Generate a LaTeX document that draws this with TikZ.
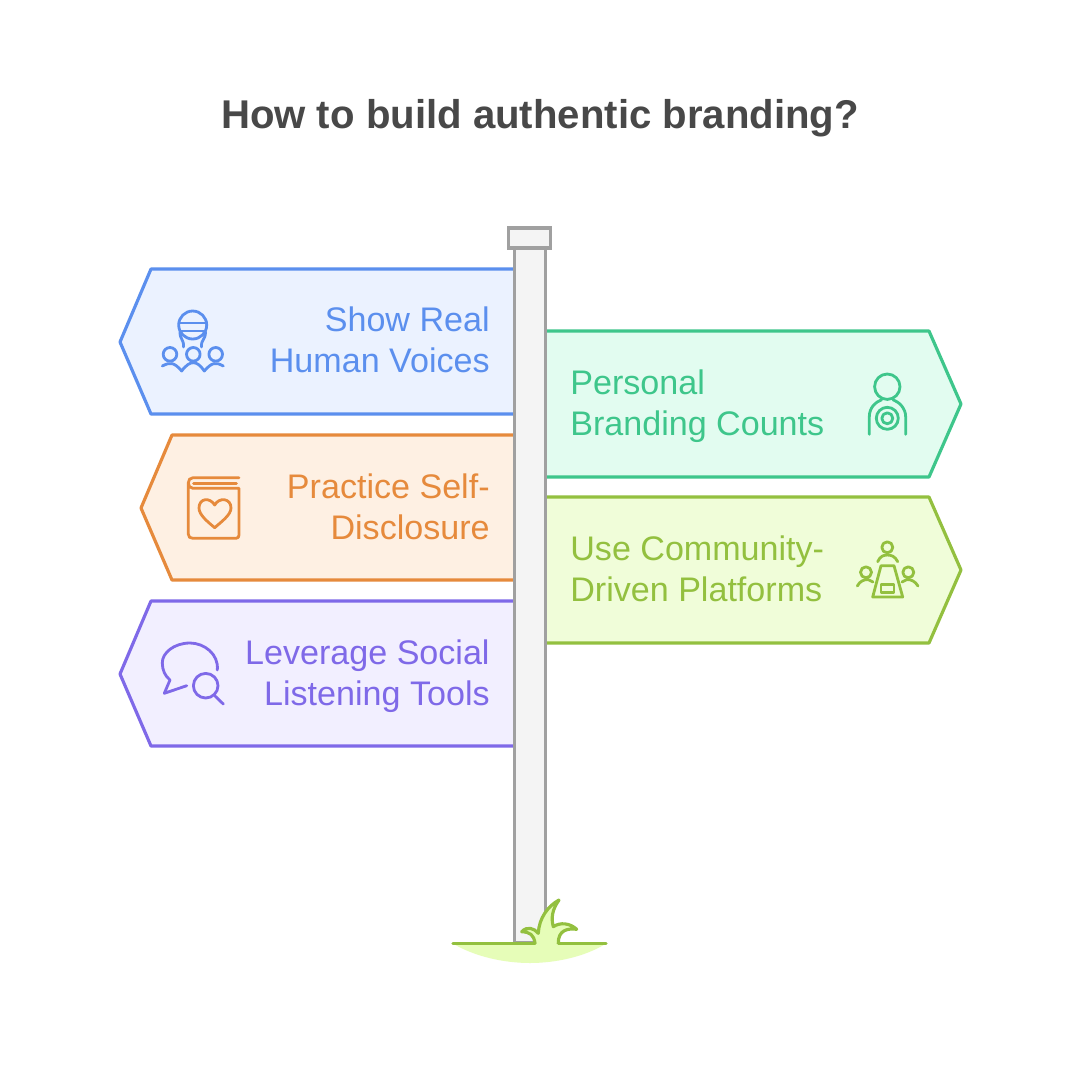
\documentclass[tikz,border=0pt]{standalone}
\usepackage{fontspec}
\setmainfont{Liberation Sans}
\definecolor{blueline}{HTML}{5B8FEE}
\definecolor{bluefill}{HTML}{EBF2FF}
\definecolor{orangeline}{HTML}{E68A3C}
\definecolor{orangefill}{HTML}{FEF0E3}
\definecolor{purpleline}{HTML}{7F69E8}
\definecolor{purplefill}{HTML}{F2EFFF}
\definecolor{greenline}{HTML}{3EC68B}
\definecolor{greenfill}{HTML}{E2FCF0}
\definecolor{limeline}{HTML}{93C03F}
\definecolor{limefill}{HTML}{F0FDD9}
\definecolor{postline}{HTML}{A0A0A0}
\definecolor{postfill}{HTML}{F4F4F4}
\definecolor{grassfill}{HTML}{E6FDB8}
\definecolor{titlegray}{HTML}{484848}
\tikzset{
signtext/.style={inner sep=0pt,font=\fontsize{19.4}{23.3}\selectfont},
signline/.style={line width=1.8pt,line join=round},
iconline/.style={line width=1.6pt,line cap=round,line join=round}
}
\begin{document}
\begin{tikzpicture}
[x=0.02cm,y=-0.02cm]
\useasboundingbox[fill=white] (0,0) rectangle (1080,1080);
\node[inner sep=0pt,text=titlegray,font=\fontsize{22.85}{27}\selectfont\bfseries] (title) at (540,118) {How to build authentic branding?};
\foreach \tone/\x/\y in {blue/120/342,orange/141/508,purple/120/674}
\draw[signline,draw=\tone line,fill=\tone fill] (514,\y-73) -- (\x+31,\y-73) -- (\x,\y) -- (\x+31,\y+72) -- (514,\y+72);
\foreach \tone/\y in {green/404,lime/570}
\draw[signline,draw=\tone line,fill=\tone fill] (546,\y-73) -- (929,\y-73) -- (961,\y) -- (929,\y+73) -- (546,\y+73);
\node[signtext,anchor=east,align=right,text=blueline] (s1) at (490,340) {Show Real\\Human Voices};
\node[signtext,anchor=east,align=right,text=orangeline] (s2) at (490,507) {Practice Self-\\Disclosure};
\node[signtext,anchor=east,align=right,text=purpleline] (s3) at (490,676) {Leverage Social\\Listening Tools};
\node[signtext,anchor=west,align=left,text=greenline] (s4) at (570,406) {Personal\\Branding Counts};
\node[signtext,anchor=west,align=left,text=limeline] (s5) at (570,569) {Use Community-\\Driven Platforms};
\draw[line width=1.8pt,draw=postline,fill=postfill] (514.5,248) rectangle (545.5,943);
\draw[line width=1.8pt,draw=postline,fill=postfill] (508.5,228) rectangle (550.5,248);
\fill[grassfill] (452,943) .. controls (475,957) and (505,963) .. (530,963) .. controls (555,963) and (585,957) .. (607,943) -- cycle;
\draw[signline,limeline,fill=grassfill] (535,943.3) .. controls (534,935) and (530,932) .. (521.7,931.7) .. controls (527,926) and (534,928) .. (538.3,933.3) .. controls (539,918) and (548,906) .. (559,900) .. controls (552,910) and (551,918) .. (553.3,926.7) .. controls (560,922) and (570,923) .. (576.7,929.3) .. controls (568,928) and (558,930) .. (558.3,943.3);
\draw[signline,limeline,line cap=round] (453,943.3) -- (535,943.3) (558.3,943.3) -- (606,943.3);
\begin{scope}[iconline,blueline]
\draw (192.7,325) circle (14);
\draw (179,323) -- (206.5,323) (180,331) -- (205.5,331);
\draw (180,332) .. controls (180,340) and (184,339) .. (183.5,347);
\draw (205.5,332) .. controls (205.5,340) and (201,339) .. (201.5,347);
\foreach \x in {170,193.3,215.7}
\draw (\x,354.3) circle (6.8);
\draw (162.3,366) .. controls (170,362) and (174,362) .. (181.7,371) .. controls (186,365) and (190,362.7) .. (193.3,362.7) .. controls (197,362.7) and (200,365) .. (204.3,371) .. controls (212,362) and (216,362) .. (223.3,366);
\end{scope}
\begin{scope}[iconline,orangeline]
\draw (239,477.7) -- (193,477.7) .. controls (190,477.7) and (188.3,480) .. (188.3,483) -- (188.3,534) .. controls (188.3,537) and (190,538.3) .. (193,538.3) -- (236,538.3) .. controls (238,538.3) and (239,537) .. (239,535) -- (239,488.3) -- (193,488.3) .. controls (190,488.3) and (188.3,486) .. (188.3,483);
\draw (193.5,483.3) -- (236.5,483.3);
\draw (214.7,505) .. controls (210,497) and (199,498) .. (199,508) .. controls (199,515) and (208,522) .. (214.7,527.7) .. controls (221,522) and (231,515) .. (231,508) .. controls (231,498) and (219,497) .. (214.7,505) -- cycle;
\end{scope}
\begin{scope}[iconline,purpleline]
\draw (217.3,670) .. controls (219,654) and (204,643) .. (190,643) .. controls (174,643) and (162,653) .. (162.3,663) .. controls (162.3,670) and (165,676) .. (170,680) -- (164.3,693.3) -- (186.7,685.7);
\draw (205.7,685.7) circle (12.3);
\draw (215,696) -- (223.3,704);
\end{scope}
\begin{scope}[iconline,greenline]
\draw (887.3,386.7) circle (12.7);
\draw (869.3,434.3) -- (869.3,417) .. controls (869.3,408) and (875,402) .. (881.7,399.7);
\draw (905.7,434.3) -- (905.7,417) .. controls (905.7,408) and (899,402) .. (893,399.7);
\draw (887.3,418.3) circle (11);
\draw (887.3,418.3) circle (5.5);
\end{scope}
\begin{scope}[iconline,limeline]
\draw (887.3,547.3) circle (5.5);
\draw (877.7,561.7) .. controls (880,556) and (884,555) .. (887.3,555) .. controls (891,555) and (895,556) .. (897.7,561.7);
\foreach \x in {866,908.3}
\draw (\x,572.3) circle (5.5);
\draw (857.3,586) .. controls (860,581) and (864,579.5) .. (868,579.5) -- (873,582);
\draw (918,586) .. controls (915,581) and (911,579.5) .. (907,579.5) -- (902,582);
\draw (881,565.7) -- (894,565.7) -- (902.7,597) -- (872.7,597) -- cycle;
\draw (881,584.3) rectangle (894,592.3);
\end{scope}
\end{tikzpicture}
\end{document}
